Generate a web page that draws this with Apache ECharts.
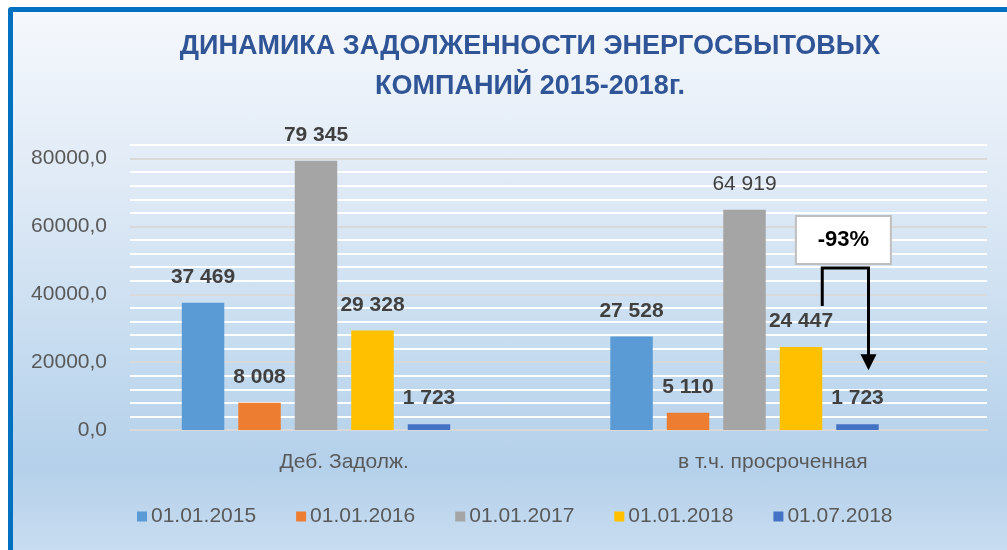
<!DOCTYPE html>
<html>
<head>
<meta charset="utf-8">
<script src="https://cdn.jsdelivr.net/npm/echarts@6/dist/echarts.min.js"></script>
<style>
  html, body { margin: 0; padding: 0; background: #fff; }
  #wrap { position: relative; width: 1007px; height: 550px; overflow: hidden; }
  #bg {
    position: absolute; left: 8px; top: 7px; width: 1100px; height: 560px;
    border: 5px solid #0070C0; border-radius: 3px;
    background: linear-gradient(to bottom, #f5f8fc 0%, #dce8f5 35%, #c4dbef 62%, #b4d0ea 81%, #cde0f2 100%);
  }
  #chart { position: absolute; left: 0; top: 0; width: 1007px; height: 550px; }
</style>
</head>
<body>
<div id="wrap">
  <div id="bg"></div>
  <div id="chart"></div>
</div>
<script>
const categories = ['Деб. Задолж.', 'в т.ч. просроченная'];
const seriesNames = ['01.01.2015', '01.01.2016', '01.01.2017', '01.01.2018', '01.07.2018'];
const colors = ['#5B9BD5', '#ED7D31', '#A5A5A5', '#FFC000', '#4472C4'];
const v2015 = [37469, 27528];
const v2016 = [8008, 5110];
const v2017 = [79345, 64919];
const v2018 = [29328, 24447];
const v2018jul = [1723, 1723];
const values = [v2015, v2016, v2017, v2018, v2018jul];
const changeText = '-93%';

const FONT = '"Liberation Sans", Arial, sans-serif';
const BAR_W = 42.5;
const BAR_GAP = 14;

function fmt(v) {
  return String(v).replace(/\B(?=(\d{3})+(?!\d))/g, ' ');
}

const chart = echarts.init(document.getElementById('chart'), null, { renderer: 'canvas' });

const series = values.map((arr, i) => ({
  name: seriesNames[i],
  type: 'bar',
  barWidth: BAR_W,
  barGap: (BAR_GAP / BAR_W * 100).toFixed(1) + '%',
  itemStyle: { color: colors[i] },
  label: {
    show: true,
    position: 'top',
    distance: 15,
    fontFamily: FONT,
    fontSize: 21,
    fontWeight: 'bold',
    color: '#404040',
    formatter: p => fmt(p.value)
  },
  // в исходнике подпись 64 919 не жирная
  data: arr.map((v, j) => (i === 2 && j === 1) ? { value: v, label: { fontWeight: 'normal' } } : v)
}));
// пустой шестой ряд, как в исходной диаграмме (сдвигает группы влево)
series.push({ name: '_', type: 'bar', barWidth: BAR_W, data: [null, null], silent: true });

chart.setOption({
  animation: false,
  title: {
    text: 'ДИНАМИКА ЗАДОЛЖЕННОСТИ ЭНЕРГОСБЫТОВЫХ\nКОМПАНИЙ 2015-2018г.',
    left: 530,
    top: 27,
    padding: 0,
    textAlign: 'center',
    textStyle: { fontFamily: FONT, fontSize: 27, fontWeight: 'bold', color: '#2F5597', lineHeight: 40 }
  },
  legend: {
    data: seriesNames,
    left: 137,
    top: 506,
    padding: 0,
    icon: 'rect',
    itemWidth: 10,
    itemHeight: 10,
    itemGap: 40,
    textStyle: { fontFamily: FONT, fontSize: 21, color: '#595959', padding: [0, 0, 0, -1] }
  },
  grid: { left: 130, right: 20, top: 145, bottom: 120, containLabel: false },
  xAxis: {
    type: 'category',
    data: categories,
    axisLine: { lineStyle: { color: '#d9d9d9', width: 2 } },
    axisTick: { show: false },
    axisLabel: { fontFamily: FONT, fontSize: 21, color: '#595959', margin: 22 }
  },
  yAxis: {
    type: 'value',
    min: 0,
    max: 84000,
    interval: 4000,
    axisLine: { show: false },
    axisTick: { show: false },
    axisLabel: {
      fontFamily: FONT, fontSize: 21, color: '#595959', margin: 23,
      formatter: v => (v % 20000 === 0 ? v + ',0' : '')
    },
    splitLine: { lineStyle: { color: ['#d9d9d9', '#ffffff', '#ffffff', '#ffffff', '#ffffff'], width: 2 } }
  },
  series: series
});

// выноска -93% от 01.01.2018 к 01.07.2018 по второй категории
const cx = chart.convertToPixel({ xAxisIndex: 0 }, 1);
const step = BAR_W + BAR_GAP;
const x1 = cx + (3 - 2.5) * step + BAR_W / 2;
const x2 = cx + (4 - 2.5) * step + 11;
const yTop = chart.convertToPixel({ yAxisIndex: 0 }, v2018[1]);
const yEnd = chart.convertToPixel({ yAxisIndex: 0 }, v2018jul[1]);
const hy = yTop - 79;
const tipY = yEnd - 54;
const boxW = 95, boxH = 48;
const bx = (x1 + x2) / 2 - boxW / 2 - 2;

chart.setOption({
  graphic: [
    {
      type: 'polyline',
      shape: { points: [[x1, yTop - 41], [x1, hy], [x2, hy], [x2, tipY - 14]] },
      style: { stroke: '#000', lineWidth: 3, fill: null },
      z: 100
    },
    {
      type: 'polygon',
      shape: { points: [[x2 - 8, tipY - 16], [x2 + 8, tipY - 16], [x2, tipY]] },
      style: { fill: '#000' },
      z: 100
    },
    {
      type: 'rect',
      shape: { x: bx, y: hy - 4 - boxH, width: boxW, height: boxH },
      style: { fill: '#fff', stroke: '#bfbfbf', lineWidth: 2 },
      z: 100
    },
    {
      type: 'text',
      x: bx + boxW / 2,
      y: hy - 4 - boxH / 2,
      style: {
        text: changeText, align: 'center', verticalAlign: 'middle',
        font: 'bold 22px ' + FONT, fill: '#000'
      },
      z: 101
    }
  ]
});
</script>
</body>
</html>
